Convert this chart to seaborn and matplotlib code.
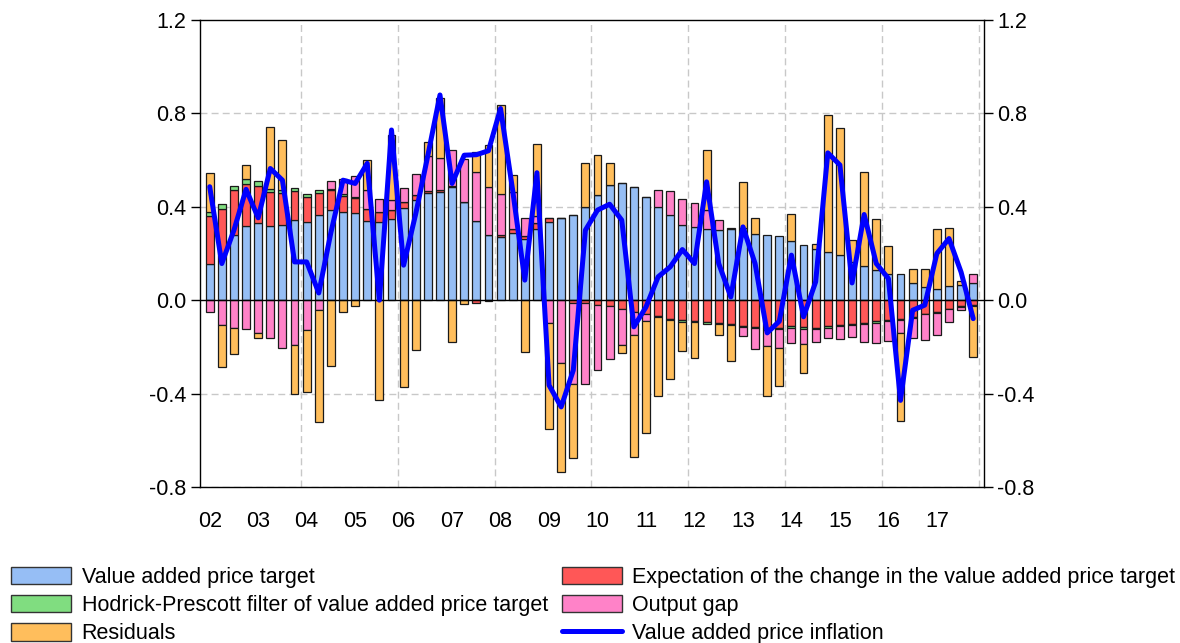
import matplotlib
matplotlib.use("Agg")
import matplotlib.pyplot as plt
import numpy as np
import pandas as pd
import seaborn as sns
from matplotlib.patches import Patch
from matplotlib.lines import Line2D

# quarters 2002Q1 .. 2017Q4
years = ["02", "03", "04", "05", "06", "07", "08", "09",
         "10", "11", "12", "13", "14", "15", "16", "17"]

target = [0.157, 0.20, 0.279, 0.319, 0.329, 0.319, 0.324, 0.343,
          0.336, 0.367, 0.386, 0.379, 0.374, 0.34, 0.333, 0.346,
          0.393, 0.431, 0.457, 0.464, 0.486, 0.421, 0.34, 0.281,
          0.271, 0.286, 0.26, 0.307, 0.336, 0.35, 0.367, 0.40,
          0.45, 0.493, 0.50, 0.486, 0.443, 0.40, 0.367, 0.324,
          0.314, 0.307, 0.30, 0.307, 0.311, 0.283, 0.279, 0.273,
          0.254, 0.236, 0.221, 0.207, 0.193, 0.164, 0.146, 0.129,
          0.111, 0.111, 0.074, 0.057, 0.047, 0.061, 0.063, 0.074]

expectation = [0.203, 0.189, 0.192, 0.18, 0.162, 0.145, 0.133, 0.123,
               0.105, 0.094, 0.085, 0.067, 0.062, 0.049, 0.046, 0.04,
               0.028, 0.019, 0.009, 0.006, 0.005, 0.0, -0.01, -0.005,
               0.009, 0.017, 0.014, 0.022, 0.018, 0.0, -0.014, -0.012,
               -0.019, -0.024, -0.036, -0.05, -0.06, -0.069, -0.079, -0.086,
               -0.089, -0.093, -0.097, -0.10, -0.11, -0.114, -0.121, -0.119,
               -0.111, -0.114, -0.117, -0.11, -0.105, -0.10, -0.096, -0.09,
               -0.083, -0.079, -0.074, -0.057, -0.05, -0.036, -0.024, -0.021]

hp_filter = [0.018, 0.021, 0.019, 0.018, 0.02, 0.014, 0.014, 0.015,
             0.013, 0.013, 0.005, 0.008, 0.004, 0.0, 0.0, 0.0,
             0.0, 0.0, 0.0, 0.0, 0.0, 0.0, 0.0, 0.0,
             0.0, 0.0, 0.0, 0.0, 0.0, 0.0, 0.0, 0.0,
             0.0, 0.0, 0.0, 0.0, 0.0, -0.005, -0.005, -0.006,
             -0.005, -0.007, -0.006, -0.006, -0.005, -0.006, -0.005, -0.006,
             -0.008, -0.008, -0.006, -0.007, -0.007, -0.006, -0.005, -0.006,
             -0.007, -0.005, -0.004, -0.004, -0.004, -0.003, -0.004, -0.003]

output_gap = [-0.051, -0.107, -0.121, -0.124, -0.14, -0.16, -0.203, -0.19,
              -0.129, -0.04, 0.035, 0.067, 0.091, 0.082, 0.054, 0.043,
              0.058, 0.089, 0.151, 0.137, 0.152, 0.182, 0.21, 0.202,
              0.173, 0.161, 0.076, 0.031, -0.096, -0.271, -0.343, -0.345,
              -0.281, -0.226, -0.154, -0.097, -0.029, 0.071, 0.10, 0.109,
              0.103, 0.079, 0.043, 0.004, -0.039, -0.087, -0.072, -0.078,
              -0.063, -0.064, -0.058, -0.044, -0.055, -0.051, -0.08, -0.087,
              -0.086, -0.056, -0.084, -0.11, -0.093, -0.054, -0.015, 0.037]

residuals = [0.168, -0.177, -0.108, 0.063, -0.024, 0.265, 0.215, -0.21,
             -0.264, -0.481, -0.283, -0.051, -0.026, 0.129, -0.429, 0.28,
             -0.371, -0.214, 0.062, 0.257, -0.181, -0.017, 0.086, 0.181,
             0.383, 0.072, -0.221, 0.307, -0.454, -0.465, -0.317, 0.186,
             0.171, 0.096, -0.036, -0.524, -0.48, -0.337, -0.255, -0.125,
             -0.152, 0.257, -0.044, -0.154, 0.196, 0.067, -0.214, -0.164,
             0.117, -0.124, 0.018, 0.587, 0.546, 0.093, 0.404, 0.218,
             0.122, -0.379, 0.059, 0.076, 0.257, 0.249, 0.018, -0.219]

inflation = [0.486, 0.157, 0.30, 0.475, 0.353, 0.564, 0.514, 0.164,
             0.164, 0.031, 0.29, 0.514, 0.50, 0.586, 0.0, 0.729,
             0.15, 0.37, 0.62, 0.879, 0.50, 0.621, 0.623, 0.64,
             0.821, 0.47, 0.086, 0.546, -0.364, -0.457, -0.30, 0.30,
             0.386, 0.411, 0.343, -0.114, -0.029, 0.10, 0.143, 0.217,
             0.157, 0.507, 0.157, 0.014, 0.314, 0.157, -0.14, -0.09,
             0.193, -0.071, 0.079, 0.631, 0.579, 0.074, 0.367, 0.157,
             0.093, -0.429, -0.043, -0.021, 0.20, 0.264, 0.12, -0.079]

components = [
    ("Value added price target", target, "#96BEF5"),
    ("Expectation of the change in the value added price target", expectation, "#FF5757"),
    ("Hodrick-Prescott filter of value added price target", hp_filter, "#80DD80"),
    ("Output gap", output_gap, "#FF82C8"),
    ("Residuals", residuals, "#FFBE5C"),
]

sns.set_theme(style="white")
plt.rcParams["font.family"] = ["Liberation Sans", "DejaVu Sans"]
plt.rcParams["text.color"] = "black"
plt.rcParams["xtick.color"] = "black"
plt.rcParams["ytick.color"] = "black"

fig = plt.figure(figsize=(11.8, 6.43), dpi=100)
ax = fig.add_axes([0.1695, 0.2426, 0.664, 0.7263])

n = len(target)
q = np.arange(n)
pos_base = np.zeros(n)
neg_base = np.zeros(n)
for name, vals, color in components:
    v = np.array(vals)
    bottom = np.where(v >= 0, pos_base, neg_base)
    df = pd.DataFrame({"q": q, "v": v})
    sns.barplot(data=df, x="q", y="v", native_scale=True, width=0.65,
                bottom=bottom, color=color, saturation=1, edgecolor="#1a1a1a",
                linewidth=0.9, errorbar=None, ax=ax)
    pos_base = pos_base + np.clip(v, 0, None)
    neg_base = neg_base + np.clip(v, None, 0)

sns.lineplot(x=q, y=inflation, color="#0000FF", linewidth=3.6, ax=ax, zorder=5)

ax.axhline(0, color="black", linewidth=1.0, zorder=4)
for yv in [-0.8, -0.4, 0.4, 0.8]:
    ax.axhline(yv, color="#c8c8c8", linewidth=1.0, linestyle=(0, (5, 3)), zorder=0)
for xv in np.arange(7.5, n, 8):
    ax.axvline(xv, color="#c8c8c8", linewidth=1.0, linestyle=(0, (5, 3)), zorder=0)

ax.set_xlim(-0.8, 63.85)
ax.set_ylim(-0.8, 1.2)
ax.set_xlabel("")
ax.set_ylabel("")

yt = [-0.8, -0.4, 0.0, 0.4, 0.8, 1.2]
ax.set_yticks(yt)
ax.set_yticklabels([f"{t:.1f}" for t in yt])
ax.set_xticks(np.arange(0, n, 4))
ax.set_xticklabels(years)
ax.set_xticks(q, minor=True)
ax.tick_params(axis="x", which="major", direction="out", length=7, width=1,
               color="black", labelcolor="black", labelsize=15.5, pad=10)
ax.tick_params(axis="x", which="minor", direction="out", length=3.5, width=1, color="black")
ax.tick_params(axis="y", which="major", direction="out", length=6.5, width=1,
               color="black", labelcolor="black", labelsize=15.5, pad=3.5,
               left=True, right=True, labelleft=True, labelright=True)
for s in ax.spines.values():
    s.set_color("black")
    s.set_linewidth(1.0)
    s.set_visible(True)

handles = [
    Patch(facecolor=components[0][2], edgecolor="#333333", label=components[0][0]),
    Patch(facecolor=components[2][2], edgecolor="#333333", label=components[2][0]),
    Patch(facecolor=components[4][2], edgecolor="#333333", label=components[4][0]),
    Patch(facecolor=components[1][2], edgecolor="#333333", label=components[1][0]),
    Patch(facecolor=components[3][2], edgecolor="#333333", label=components[3][0]),
    Line2D([0], [0], color="#0000FF", linewidth=3.6, label="Value added price inflation"),
]
fig.legend(handles=handles, ncol=2, loc="upper left", bbox_to_anchor=(0.0095, 0.118),
           frameon=False, fontsize=15.5, handlelength=2.8, handleheight=0.85,
           handletextpad=0.47, columnspacing=0.65, labelspacing=0.33, borderpad=0,
           borderaxespad=0, labelcolor="black")

fig.savefig("out.png", dpi=100)
